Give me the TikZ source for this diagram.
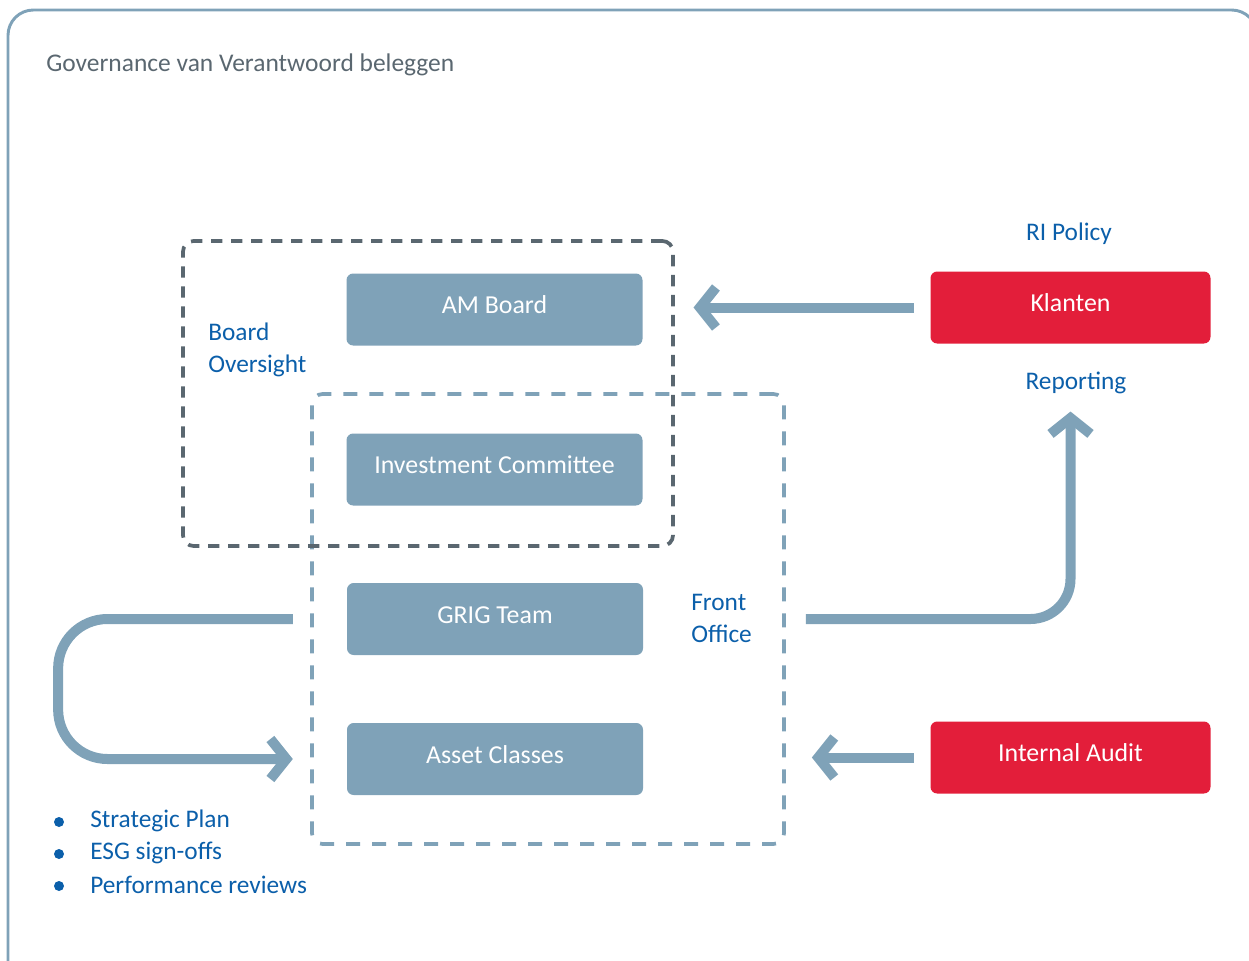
\documentclass[tikz,border=0pt]{standalone}
\usepackage{fontspec}
\setmainfont{Carlito}
\usetikzlibrary{arrows.meta}

\definecolor{steel}{HTML}{7FA2B8}
\definecolor{alert}{HTML}{E31E3A}
\definecolor{ink}{HTML}{0B5FAA}
\definecolor{slate}{HTML}{5A6770}

\tikzset{
  unit/.style={fill=steel, text=white, rounded corners=5pt, inner sep=0pt,
    minimum width=222pt, minimum height=54pt, text height=10pt, text depth=4pt,
    font=\fontsize{19.4pt}{24pt}\selectfont},
  party/.style={unit, fill=alert, minimum width=210pt},
  lbl/.style={text=ink, inner sep=0pt, align=left, font=\fontsize{19pt}{24pt}\selectfont},
  group/.style={line width=2.8pt, inner sep=0pt, rounded corners=8pt},
  flow/.style={draw=steel, line width=7.5pt, -{Straight Barb[length=12pt,width=30pt]}},
  dot/.style={circle, fill=ink, inner sep=0pt, minimum size=7.5pt},
}

\begin{document}
\begin{tikzpicture}[x=0.75pt,y=0.75pt,yscale=-1,xscale=1]
\useasboundingbox (0,0) rectangle (1249,960);
\clip (0,0) rectangle (1249,960);

%Frame
\draw [steel, line width=2.2pt, rounded corners=19pt] (8,10) rectangle (1257,990);

% Title
\node [anchor=west, text=slate, inner sep=0pt, font=\fontsize{19.1pt}{24pt}\selectfont] (title) at (46,65) {Governance van Verantwoord beleggen};

%Dashed groups
\node [group, draw=steel, dash pattern=on 10.5pt off 9pt, minimum width=354pt, minimum height=337.5pt] (frontbox) at (548,619) {};
\node [group, draw=slate, dash pattern=on 8.5pt off 6.5pt, minimum width=367.5pt, minimum height=228.75pt] (boardbox) at (428,393.5) {};

%Units
\node [unit] (amboard) at (494.5,309.5) {AM Board};
\node [unit] (invest) at (494.5,469.5) {Investment Committee};
\node [unit] (grig) at (495,619) {GRIG Team};
\node [unit] (asset) at (495,759) {Asset Classes};
\node [party] (klanten) at (1070.5,307.5) {Klanten};
\node [party] (audit) at (1070.5,757.5) {Internal Audit};

% Text Node
\node [lbl, anchor=west] (oversight) at (208,350) {Board\\Oversight};
\node [lbl, anchor=west] (frontoffice) at (691,618) {Front\\Office};
\node [lbl] (policy) at (1069,234) {RI Policy};
\node [lbl] (reporting) at (1076,383) {Reporting};

%Bullets
\foreach \goal [count=\i] in {Strategic Plan, ESG sign-offs, Performance reviews}{
  \node [dot] (dot\i) at (59,790+32*\i) {};
  \node [lbl, anchor=west] (goal\i) at (90,789+32*\i) {\goal};
}

%Arrows
\draw [flow, shorten <=12pt, shorten >=14pt] (klanten.west) -- (klanten.west -| boardbox.east);
\draw [flow, shorten <=12pt, shorten >=19.5pt] (audit.west) -- (audit.west -| frontbox.east);
\draw [flow, rounded corners=30pt, shorten <=15pt, shorten >=13pt] (frontbox.east |- grig.east) -| (klanten.south |- reporting.south);
\draw [flow, rounded corners=37pt, shorten <=13pt, shorten >=13pt] (frontbox.west |- grig.west) -- ++(-252,0) |- (frontbox.west |- asset.west);

\end{tikzpicture}
\end{document}
